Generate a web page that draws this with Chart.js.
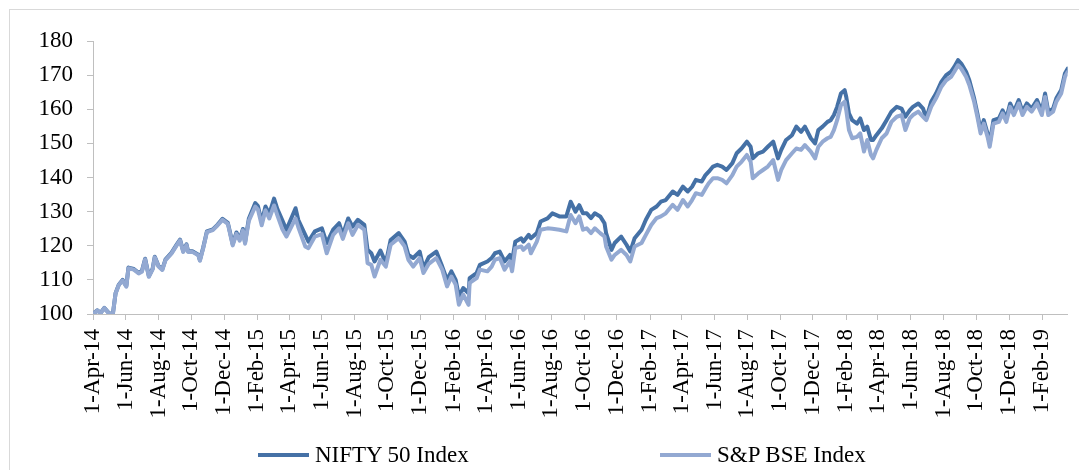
<!DOCTYPE html>
<html>
<head>
<meta charset="utf-8">
<script src="https://cdn.jsdelivr.net/npm/chart.js@4.4.1/dist/chart.umd.min.js"></script>
<style>
  html, body { margin: 0; padding: 0; background: #fff; overflow: hidden; }
  #wrap { position: relative; width: 1079px; height: 470px; overflow: hidden; }
  #frame { position: absolute; left: 9px; top: 9px; width: 1200px; height: 600px; border: 1px solid #d9d9d9; box-sizing: border-box; }
  #graph { position: absolute; left: 0; top: 0; }
  .legend-item { position: absolute; top: 442px; height: 26px; display: flex; align-items: center;
    font-family: "Liberation Serif", "Times New Roman", serif; font-size: 23px; color: #000; white-space: nowrap; }
  .legend-item .swatch { display: inline-block; width: 51px; height: 4px; margin-right: 6px; }
</style>
</head>
<body>
<div id="wrap">
  <div id="frame"></div>
  <canvas id="graph" width="1079" height="470"></canvas>
</div>
<script>
const seriesNames = ["NIFTY 50 Index", "S&P BSE Index"];
const seriesColors = ["#4571a6", "#93a9d2"];

const dates = [
  "2014-04-01","2014-04-09","2014-04-15","2014-04-22","2014-05-01","2014-05-08","2014-05-13","2014-05-19","2014-05-26","2014-06-02",
  "2014-06-06","2014-06-16","2014-06-25","2014-07-01","2014-07-07","2014-07-14","2014-07-21","2014-07-25","2014-08-01","2014-08-08",
  "2014-08-14","2014-08-25","2014-09-04","2014-09-10","2014-09-16","2014-09-22","2014-09-25","2014-10-03","2014-10-14","2014-10-17",
  "2014-10-23","2014-10-30","2014-11-10","2014-11-19","2014-11-28","2014-12-08","2014-12-17","2014-12-24","2014-12-30","2015-01-05",
  "2015-01-09","2015-01-16","2015-01-28","2015-02-02","2015-02-09","2015-02-16","2015-02-23","2015-03-04","2015-03-10","2015-03-19",
  "2015-03-27","2015-04-13","2015-04-18","2015-05-01","2015-05-07","2015-05-19","2015-06-01","2015-06-10","2015-06-22","2015-07-03",
  "2015-07-10","2015-07-20","2015-07-28","2015-08-07","2015-08-19","2015-08-25","2015-09-01","2015-09-07","2015-09-18","2015-09-28",
  "2015-10-07","2015-10-22","2015-11-02","2015-11-09","2015-11-18","2015-11-30","2015-12-07","2015-12-17","2015-12-31","2016-01-11",
  "2016-01-20","2016-01-28","2016-02-05","2016-02-11","2016-02-19","2016-02-29","2016-03-02","2016-03-15","2016-03-21","2016-04-04",
  "2016-04-12","2016-04-18","2016-04-27","2016-05-06","2016-05-16","2016-05-20","2016-05-26","2016-06-06","2016-06-10","2016-06-20",
  "2016-06-24","2016-07-05","2016-07-12","2016-07-25","2016-08-03","2016-08-16","2016-08-29","2016-09-06","2016-09-15","2016-09-22",
  "2016-09-29","2016-10-06","2016-10-14","2016-10-21","2016-10-31","2016-11-08","2016-11-11","2016-11-21","2016-11-27","2016-12-09",
  "2016-12-19","2016-12-26","2017-01-03","2017-01-16","2017-01-24","2017-02-03","2017-02-13","2017-02-21","2017-03-02","2017-03-15",
  "2017-03-24","2017-04-03","2017-04-12","2017-04-20","2017-04-27","2017-05-08","2017-05-15","2017-05-21","2017-05-29","2017-06-06",
  "2017-06-15","2017-06-23","2017-07-04","2017-07-12","2017-07-21","2017-07-31","2017-08-07","2017-08-11","2017-08-21","2017-08-30",
  "2017-09-08","2017-09-18","2017-09-27","2017-10-03","2017-10-12","2017-10-23","2017-10-31","2017-11-09","2017-11-16","2017-11-27",
  "2017-12-05","2017-12-11","2017-12-19","2017-12-28","2018-01-03","2018-01-09","2018-01-15","2018-01-22","2018-01-29","2018-02-01",
  "2018-02-06","2018-02-12","2018-02-21","2018-02-27","2018-03-06","2018-03-12","2018-03-19","2018-03-23","2018-03-29","2018-04-08",
  "2018-04-17","2018-04-26","2018-05-06","2018-05-15","2018-05-22","2018-05-30","2018-06-05","2018-06-15","2018-06-24","2018-06-30",
  "2018-07-09","2018-07-18","2018-07-28","2018-08-06","2018-08-15","2018-08-21","2018-08-28","2018-09-03","2018-09-12","2018-09-18",
  "2018-09-27","2018-10-03","2018-10-09","2018-10-15","2018-10-22","2018-10-26","2018-11-02","2018-11-12","2018-11-19","2018-11-26",
  "2018-12-03","2018-12-10","2018-12-19","2018-12-26","2019-01-03","2019-01-12","2019-01-22","2019-01-31","2019-02-06","2019-02-12",
  "2019-02-21","2019-02-27","2019-03-08","2019-03-15","2019-03-20"
];

const nifty = [
  100.0,101.1,100.3,101.8,100.2,100.1,106.1,108.6,110.0,108.2,
  113.6,113.2,112.1,112.6,116.2,111.1,113.3,116.8,114.1,113.1,
  116.0,117.9,120.4,121.8,118.4,120.4,118.4,118.4,117.4,115.8,
  119.4,124.2,124.8,126.2,127.9,126.7,120.5,123.9,121.9,124.9,
  121.0,127.9,132.5,131.6,126.9,131.5,129.3,133.8,130.8,127.6,
  124.7,131.0,127.6,123.2,121.2,124.2,125.1,120.8,124.7,126.6,
  123.2,128.0,125.6,127.6,126.1,118.8,117.8,115.4,118.6,114.9,
  121.7,123.7,121.2,117.3,116.4,118.3,113.4,116.7,118.3,113.9,
  110.0,112.5,110.0,105.2,107.6,106.1,110.5,112.0,114.4,115.4,
  116.4,117.8,118.3,115.4,117.3,115.4,121.2,122.2,121.2,123.2,
  122.2,123.7,127.1,128.0,129.5,128.6,128.6,132.9,130.0,131.9,
  129.5,129.5,128.1,129.5,128.6,126.6,123.7,118.8,120.8,122.7,
  120.3,118.3,122.2,124.7,127.6,130.5,131.5,132.9,133.4,135.9,
  134.9,137.3,135.9,137.3,139.3,138.8,140.7,141.7,143.2,143.7,
  143.2,142.2,144.2,147.1,148.5,150.5,149.0,145.6,147.1,147.6,
  149.0,150.5,145.6,148.1,151.0,152.4,154.9,153.4,154.9,151.5,
  150.0,153.9,154.9,156.3,156.8,158.3,160.7,164.6,165.6,163.6,
  158.8,156.8,155.8,157.3,153.9,154.9,151.0,151.0,152.4,154.4,
  156.8,159.3,160.7,160.2,157.8,159.7,160.7,161.7,160.2,157.3,
  162.2,164.6,168.0,170.0,171.0,172.4,174.4,173.4,171.0,168.5,
  163.2,158.8,153.9,156.8,152.9,150.0,156.8,157.3,159.7,157.3,
  161.7,159.3,162.7,159.3,161.7,160.2,162.7,159.3,164.6,159.3,
  160.2,163.2,165.6,170.5,171.9
];

const bse = [
  100.0,101.0,100.2,101.7,100.1,100.0,106.0,108.5,109.8,108.0,
  113.4,113.0,111.9,112.4,116.0,110.9,113.1,116.6,113.9,112.9,
  115.8,117.7,120.2,121.6,118.2,120.2,118.2,118.2,117.2,115.6,
  119.2,124.0,124.6,126.0,127.6,126.4,120.1,123.5,121.5,124.5,
  120.6,127.3,131.5,130.6,126.0,130.4,128.0,131.8,129.0,125.0,
  122.7,128.0,125.5,119.8,119.3,122.7,123.4,117.8,123.2,125.1,
  122.0,126.6,123.2,126.1,124.7,114.9,114.4,111.0,115.9,113.9,
  120.3,122.2,119.8,115.9,113.9,116.4,112.0,114.7,116.4,113.0,
  108.1,111.0,108.6,102.7,105.7,102.7,109.1,110.5,113.0,112.5,
  113.9,115.9,116.4,113.0,115.4,112.5,119.3,119.8,118.8,120.3,
  117.8,121.2,124.7,125.1,125.0,124.7,124.2,129.0,126.6,128.6,
  124.7,125.1,123.7,125.1,123.7,122.7,119.8,115.9,117.3,118.8,
  117.3,115.4,119.8,120.8,123.2,126.1,128.1,128.6,129.5,132.0,
  130.5,133.4,131.5,133.4,135.4,134.9,136.8,138.3,139.8,139.8,
  139.3,138.3,140.7,143.2,144.6,146.6,144.6,139.8,141.2,142.2,
  143.2,145.1,139.3,142.2,145.1,147.1,148.5,148.1,149.5,147.6,
  145.6,149.0,150.5,151.5,151.9,153.9,156.8,161.2,162.2,159.7,
  153.9,151.5,151.9,152.9,147.6,151.0,146.6,145.6,148.1,151.5,
  152.9,156.3,157.8,158.3,153.9,157.3,158.3,159.3,157.8,156.8,
  160.7,163.2,166.6,168.5,169.5,171.0,172.9,171.9,169.5,167.1,
  162.2,157.8,152.9,155.8,151.9,149.0,155.8,156.3,158.8,156.3,
  160.7,158.3,161.7,158.3,160.7,159.3,161.7,158.3,163.6,158.3,
  159.3,162.2,164.6,169.5,170.9
];

const tickLabels = [
  "1-Apr-14","1-Jun-14","1-Aug-14","1-Oct-14","1-Dec-14","1-Feb-15","1-Apr-15","1-Jun-15","1-Aug-15","1-Oct-15",
  "1-Dec-15","1-Feb-16","1-Apr-16","1-Jun-16","1-Aug-16","1-Oct-16","1-Dec-16","1-Feb-17","1-Apr-17","1-Jun-17",
  "1-Aug-17","1-Oct-17","1-Dec-17","1-Feb-18","1-Apr-18","1-Jun-18","1-Aug-18","1-Oct-18","1-Dec-18","1-Feb-19"
];

const MONTHS = ["Jan","Feb","Mar","Apr","May","Jun","Jul","Aug","Sep","Oct","Nov","Dec"];
const start = Date.UTC(2014, 3, 1);
const dayOf = s => (Date.parse(s + "T00:00:00Z") - start) / 864e5;
const labelDay = l => {
  const p = l.split("-");
  return (Date.UTC(2000 + Number(p[2]), MONTHS.indexOf(p[1]), Number(p[0])) - start) / 864e5;
};

const fontFamily = '"Liberation Serif", "Times New Roman", serif';
const toPoints = vals => vals.map((v, i) => ({ x: dayOf(dates[i]), y: v }));

new Chart(document.getElementById("graph"), {
  type: "line",
  data: {
    datasets: [
      { label: seriesNames[0], data: toPoints(nifty), borderColor: seriesColors[0], order: 1 },
      { label: seriesNames[1], data: toPoints(bse), borderColor: seriesColors[1], order: 0 }
    ]
  },
  options: {
    responsive: false,
    animation: false,
    devicePixelRatio: 1,
    layout: { padding: { left: 9, top: 41, right: 1, bottom: 40 } },
    elements: {
      line: { borderWidth: 4, tension: 0, borderCapStyle: "round", borderJoinStyle: "round" },
      point: { radius: 0 }
    },
    plugins: { legend: { display: false }, tooltip: { enabled: false } },
    scales: {
      x: {
        type: "linear",
        min: 0,
        max: dayOf(dates[dates.length - 1]),
        afterBuildTicks: s => { s.ticks = tickLabels.map(l => ({ value: labelDay(l) })); },
        afterFit: s => { s.height = 116; },
        ticks: {
          autoSkip: false, minRotation: 90, maxRotation: 90, padding: 9, color: "#000",
          font: { family: fontFamily, size: 23 },
          callback: (v, i) => tickLabels[i]
        },
        grid: { drawOnChartArea: false, drawTicks: true, tickLength: 6, color: "#bfbfbf" },
        border: { color: "#bfbfbf", width: 1 }
      },
      y: {
        min: 100,
        max: 180,
        afterFit: s => { s.width = 84; },
        ticks: { stepSize: 10, padding: 14, color: "#000", font: { family: fontFamily, size: 23 } },
        grid: { drawOnChartArea: false, drawTicks: true, tickLength: 6, color: "#bfbfbf" },
        border: { color: "#bfbfbf", width: 1 }
      }
    }
  }
});

// legend drawn as html, placed like the original
const legendLeft = [258, 660];
const wrap = document.getElementById("wrap");
seriesNames.forEach((name, i) => {
  const item = document.createElement("div");
  item.className = "legend-item";
  item.style.left = legendLeft[i] + "px";
  const sw = document.createElement("span");
  sw.className = "swatch";
  sw.style.background = seriesColors[i];
  item.appendChild(sw);
  item.appendChild(document.createTextNode(name));
  wrap.appendChild(item);
});
</script>
</body>
</html>
